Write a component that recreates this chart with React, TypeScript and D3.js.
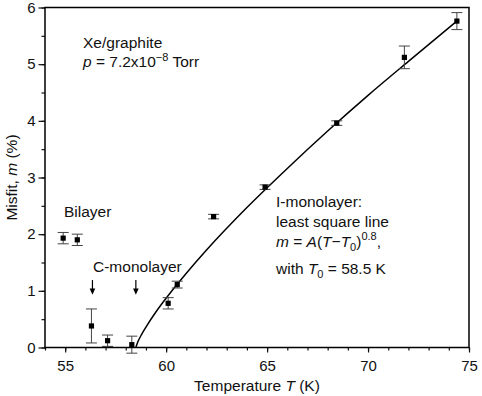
import React, {useRef, useEffect} from 'react';
import {scaleLinear, line, curveMonotoneX, axisBottom, axisLeft, select} from 'd3';

// measured points: temperature (K), misfit (%), error half-width
const temps = [54.9, 55.6, 56.3, 57.1, 58.3, 60.1, 60.55, 62.35, 64.9, 68.45, 71.8, 74.4];
const misfit = [1.93, 1.90, 0.38, 0.12, 0.05, 0.78, 1.11, 2.31, 2.83, 3.96, 5.12, 5.76];
const errors = [0.1, 0.1, 0.3, 0.1, 0.15, 0.1, 0.06, 0.04, 0.04, 0.04, 0.2, 0.15];

// least square line
const fitT = [58.5, 58.6, 58.8, 59, 59.5, 60, 61, 62, 64, 66, 68, 70, 72, 74.4];
const fitM = [0, 0.1, 0.24, 0.36, 0.63, 0.87, 1.31, 1.72, 2.47, 3.16, 3.82, 4.45, 5.05, 5.76];

// arrows marking the C-monolayer range
const arrowTemps = [56.35, 58.5];

const xTicks = [55, 60, 65, 70, 75];
const yTicks = [0, 1, 2, 3, 4, 5, 6];

const W = 482, H = 396;
const margin = {t:7.5, r:13, b:48.5, l:45};

const font = 'Arial, "Liberation Sans", Helvetica, sans-serif';

const textStyle = {
	fontFamily: font,
	fontSize: '15.5px',
	fill: '#111'
};

const x = scaleLinear().domain([54, 75]).range([margin.l, W - margin.r]);
const y = scaleLinear().domain([0, 6]).range([H - margin.b, margin.t]);

const fitLine = line<number>()
	.x((d, i) => x(fitT[i]))
	.y(d => y(d))
	.curve(curveMonotoneX);

export default function App(){

	const xAxisRef = useRef<SVGGElement>(null);
	const xMinorRef = useRef<SVGGElement>(null);
	const yAxisRef = useRef<SVGGElement>(null);
	const yMinorRef = useRef<SVGGElement>(null);

	useEffect(() => {
		const style = (g: any) => {
			g.select('.domain').remove();
			g.selectAll('line').attr('stroke', '#111').attr('stroke-width', 1.2);
			g.selectAll('text')
				.attr('fill', '#111')
				.style('font-family', font)
				.style('font-size', '15px');
		};

		select(xAxisRef.current)
			.call(axisBottom(x).tickValues(xTicks).tickSize(5).tickPadding(8).tickFormat(d => String(d)) as any)
			.call(style);
		select(xMinorRef.current)
			.call(axisBottom(x).tickValues(x.ticks(21)).tickSize(3).tickFormat(() => '') as any)
			.call(style);
		select(yAxisRef.current)
			.call(axisLeft(y).tickValues(yTicks).tickSize(6.5).tickPadding(3).tickFormat(d => String(d)) as any)
			.call(style);
		select(yMinorRef.current)
			.call(axisLeft(y).tickValues(y.ticks(12)).tickSize(3.5).tickFormat(() => '') as any)
			.call(style);
	}, []);

	const bottom = H - margin.b;
	const small = '11px';

	return (
		<svg width={W} height={H} style={{position:'absolute', left:0, top:0, background:'#fff'}}>
			<g ref={xMinorRef} transform={`translate(0,${bottom})`}/>
			<g ref={xAxisRef} transform={`translate(0,${bottom})`}/>
			<g ref={yMinorRef} transform={`translate(${margin.l},0)`}/>
			<g ref={yAxisRef} transform={`translate(${margin.l},0)`}/>

			{/* least square line */}
			<path d={fitLine(fitM) || ''} fill='none' stroke='#000' strokeWidth={1.5}/>

			{/* error bars */}
			{temps.map((t, i) => {
				const cx = x(t);
				const y0 = y(misfit[i] - errors[i]);
				const y1 = y(misfit[i] + errors[i]);
				return (
					<g key={'e' + i} stroke='#444' strokeWidth={1}>
						<line x1={cx} x2={cx} y1={y0} y2={y1}/>
						<line x1={cx - 5.5} x2={cx + 5.5} y1={y0} y2={y0}/>
						<line x1={cx - 5.5} x2={cx + 5.5} y1={y1} y2={y1}/>
					</g>
				);
			})}

			{/* points */}
			{temps.map((t, i) =>
				<rect key={'p' + i} x={x(t) - 2.6} y={y(misfit[i]) - 2.6} width={5.2} height={5.2} fill='#000'/>
			)}

			{/* arrows */}
			{arrowTemps.map((t, i) => {
				const ax = x(t);
				return (
					<g key={'a' + i}>
						<line x1={ax} x2={ax} y1={y(1.19)} y2={y(1.0)} stroke='#000' strokeWidth={1.2}/>
						<path d={`M${ax - 2.8},${y(1.04)} L${ax + 2.8},${y(1.04)} L${ax},${y(0.93)} Z`} fill='#000'/>
					</g>
				);
			})}

			{/* frame */}
			<rect x={margin.l} y={margin.t} width={W - margin.r - margin.l} height={bottom - margin.t}
				fill='none' stroke='#000' strokeWidth={1.5}/>

			{/* annotations */}
			<text style={textStyle} x={83} y={48}>Xe/graphite</text>
			<text style={textStyle} x={83} y={67}>
				<tspan fontStyle='italic'>p</tspan> = 7.2x10<tspan dy={-6} fontSize={small}>−8</tspan><tspan dy={6}> Torr</tspan>
			</text>
			<text style={textStyle} x={64} y={217}>Bilayer</text>
			<text style={textStyle} x={93} y={272}>C-monolayer</text>
			<text style={textStyle} x={276} y={207}>I-monolayer:</text>
			<text style={textStyle} x={276} y={227}>least square line</text>
			<text style={textStyle} x={276} y={247}>
				<tspan fontStyle='italic'>m</tspan> = <tspan fontStyle='italic'>A</tspan>(<tspan fontStyle='italic'>T</tspan>−<tspan fontStyle='italic'>T</tspan><tspan dy={4} fontSize={small}>0</tspan><tspan dy={-4}>)</tspan><tspan dy={-7} fontSize={small}>0.8</tspan><tspan dy={7}>,</tspan>
			</text>
			<text style={textStyle} x={276} y={274}>
				with <tspan fontStyle='italic'>T</tspan><tspan dy={4} fontSize={small}>0</tspan><tspan dy={-4}> = 58.5 K</tspan>
			</text>

			{/* axis titles */}
			<text style={textStyle} x={(margin.l + W - margin.r) / 2} y={391} textAnchor='middle'>
				Temperature <tspan fontStyle='italic'>T</tspan> (K)
			</text>
			<text style={textStyle}
				transform={`translate(17,${(margin.t + bottom) / 2}) rotate(-90)`} textAnchor='middle'>
				Misfit, <tspan fontStyle='italic'>m</tspan> (%)
			</text>
		</svg>
	);
}
